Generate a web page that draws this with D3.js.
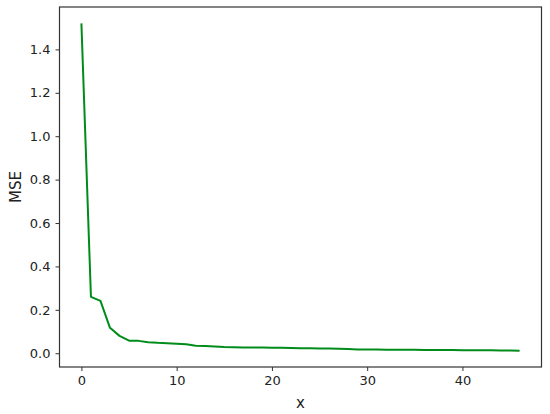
<!DOCTYPE html>
<html>
<head>
<meta charset="utf-8">
<script src="https://cdn.jsdelivr.net/npm/d3@7"></script>
<style>
  body { margin: 0; background: white; }
  text { font-family: "DejaVu Sans", sans-serif; fill: #222; }
</style>
</head>
<body>
<script>
// MSE per step
var steps = d3.range(0, 47);
var mse = [1.52, 0.26, 0.241, 0.117, 0.08, 0.058, 0.057, 0.051, 0.048, 0.046,
           0.044, 0.041, 0.034, 0.033, 0.031, 0.029, 0.028, 0.027, 0.026, 0.026,
           0.025, 0.025, 0.024, 0.023, 0.023, 0.022, 0.022, 0.021, 0.020, 0.017,
           0.017, 0.017, 0.016, 0.016, 0.016, 0.016, 0.015, 0.015, 0.015, 0.015,
           0.014, 0.014, 0.014, 0.014, 0.013, 0.013, 0.012];
var xTicks = [0, 10, 20, 30, 40];
var yTicks = [0, 0.2, 0.4, 0.6, 0.8, 1.0, 1.2, 1.4];

var chart = {
  width: 550,
  height: 414,
  left: 59.5,
  right: 541.5,
  top: 7,
  bottom: 367
};

var svg = d3.select('body').append('svg')
  .attr('width', chart.width)
  .attr('height', chart.height);

// matplotlib style 5% margins
var xPad = (d3.max(steps) - d3.min(steps)) * 0.05;
var yPad = (d3.max(mse) - d3.min(mse)) * 0.05;

var x = d3.scaleLinear()
  .domain([d3.min(steps) - xPad, d3.max(steps) + xPad])
  .range([chart.left, chart.right]);

var y = d3.scaleLinear()
  .domain([d3.min(mse) - yPad, d3.max(mse) + yPad])
  .range([chart.bottom, chart.top]);

var xAxis = svg.append('g')
  .attr('transform', 'translate(0,' + chart.bottom + ')')
  .call(d3.axisBottom(x).tickValues(xTicks).tickSize(4).tickPadding(5).tickFormat(d3.format('d')));

var yAxis = svg.append('g')
  .attr('transform', 'translate(' + chart.left + ',0)')
  .call(d3.axisLeft(y).tickValues(yTicks).tickSize(4).tickPadding(5).tickFormat(d3.format('.1f')));

[xAxis, yAxis].forEach(function(ax) {
  ax.select('.domain').remove();
  ax.selectAll('line').attr('stroke', '#333').attr('stroke-width', 1);
  ax.selectAll('text')
    .style('font-family', '"DejaVu Sans", sans-serif')
    .style('font-size', '13px')
    .attr('fill', '#222');
});

// frame
svg.append('rect')
  .attr('x', chart.left)
  .attr('y', chart.top)
  .attr('width', chart.right - chart.left)
  .attr('height', chart.bottom - chart.top)
  .attr('fill', 'none')
  .attr('stroke', '#333')
  .attr('stroke-width', 1.2);

var line = d3.line()
  .x(function(d, i) { return x(steps[i]); })
  .y(function(d) { return y(d); });

svg.append('path')
  .datum(mse)
  .attr('d', line)
  .attr('fill', 'none')
  .attr('stroke', '#008c1a')
  .attr('stroke-width', 2)
  .attr('stroke-linejoin', 'round');

svg.append('text')
  .attr('x', (chart.left + chart.right) / 2)
  .attr('y', 408)
  .attr('text-anchor', 'middle')
  .style('font-size', '15px')
  .text('x');

svg.append('text')
  .attr('transform', 'translate(21,' + ((chart.top + chart.bottom) / 2) + ') rotate(-90)')
  .attr('text-anchor', 'middle')
  .style('font-size', '15px')
  .text('MSE');
</script>
</body>
</html>
